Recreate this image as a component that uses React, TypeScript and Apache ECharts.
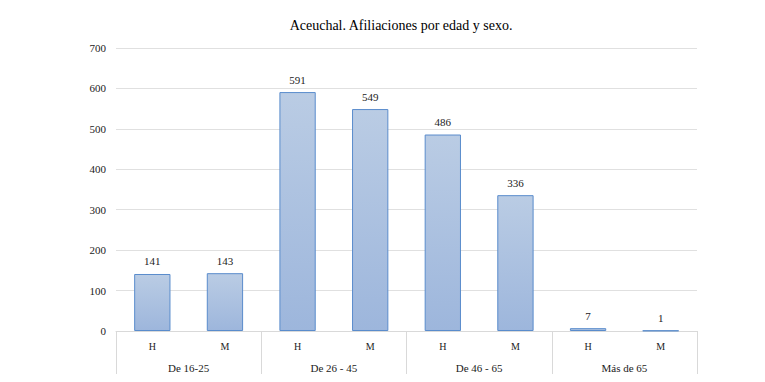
import React, { useEffect, useRef } from "react";
import * as echarts from "echarts";

const sexLabels = ["H", "M", "H", "M", "H", "M", "H", "M"];
const groupLabels = ["De 16-25", "De 26 - 45", "De 46 - 65", "Más de 65"];
const values = [141, 143, 591, 549, 486, 336, 7, 1];
const titleText = "Aceuchal. Afiliaciones por edad y sexo.";

const FONT = "'Liberation Serif', 'DejaVu Serif', serif";

export default function App() {
  const ref = useRef<HTMLDivElement>(null);
  useEffect(() => {
    document.body.style.margin = "0";
    const chart = echarts.init(ref.current!, undefined, { renderer: "svg" });
    chart.setOption({
      animation: false,
      backgroundColor: "#ffffff",
      title: {
        text: titleText,
        left: 396,
        textAlign: "center",
        top: 13,
        textStyle: { fontFamily: FONT, fontSize: 14, fontWeight: "normal", color: "#000" },
      },
      grid: { left: 116, right: 68, top: 48, bottom: 51 },
      xAxis: [
        {
          type: "category",
          data: sexLabels,
          position: "bottom",
          axisLine: { show: true, lineStyle: { color: "#d9d9d9", width: 1 } },
          axisTick: { show: false },
          axisLabel: { fontFamily: FONT, fontSize: 10, color: "#222", margin: 10 },
        },
        {
          type: "category",
          data: groupLabels,
          position: "bottom",
          axisLine: { show: false },
          axisTick: { show: true, length: 43, lineStyle: { color: "#d9d9d9" } },
          axisLabel: { fontFamily: FONT, fontSize: 11, color: "#222", margin: 31 },
        },
      ],
      yAxis: {
        type: "value",
        min: 0,
        max: 700,
        interval: 100,
        axisLine: { show: false },
        axisTick: { show: false },
        axisLabel: { fontFamily: FONT, fontSize: 11, color: "#222", margin: 10 },
        splitLine: { lineStyle: { color: "#e0e0e0", width: 1 } },
      },
      series: [
        {
          type: "bar",
          xAxisIndex: 0,
          data: values,
          barWidth: "50%",
          itemStyle: {
            color: new echarts.graphic.LinearGradient(0, 0, 0, 1, [
              { offset: 0, color: "#bacce4" },
              { offset: 1, color: "#9db6dc" },
            ]),
            borderColor: "#5a8ccc",
            borderWidth: 1,
          },
          label: {
            show: true,
            position: "top",
            distance: 7,
            fontFamily: FONT,
            fontSize: 11,
            color: "#222",
          },
        },
      ],
    });
    return () => chart.dispose();
  }, []);
  return <div ref={ref} style={{ width: 765, height: 382, position: "absolute", left: 0, top: 0 }} />;
}
